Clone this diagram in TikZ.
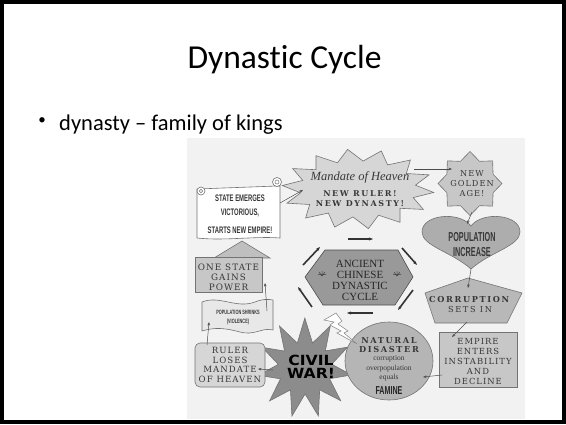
\documentclass[tikz,border=0pt]{standalone}
\usepackage{fontspec}
\setmainfont{Carlito}[Ligatures=NoCommon]
\newfontfamily\condA[FakeStretch=0.62]{Liberation Sans}
\newfontfamily\condB[FakeStretch=0.56]{Liberation Sans}
\newfontfamily\wserif[LetterSpace=12]{DejaVu Serif}
\newfontfamily\wserifB[LetterSpace=20]{DejaVu Serif}
\newfontfamily\tserif{Liberation Serif}
\newfontfamily\heavy[FakeStretch=1.12]{DejaVu Sans}
\usetikzlibrary{arrows.meta}
\newcommand\myfs[2]{\fontsize{#1}{#2}\selectfont}
\tikzset{
  shp/.style={draw=black!55, line width=0.6pt},
  conn/.style={draw=black!70, line width=0.5pt, -{Stealth[length=3.5pt,width=2.6pt]}},
  cyc/.style={draw=black!80, line width=1.6pt, -{Stealth[length=4pt,width=3pt]}},
  txt/.style={align=center, inner sep=0pt, text=black!78},
}
\begin{document}
\begin{tikzpicture}[x=1pt,y=-1pt]
\useasboundingbox (0,0) rectangle (566,424);
\fill[white] (0,0) rectangle (566,424);
% slide text
\node[font=\myfs{33.5}{36}, anchor=base] (title) at (284.5,68) {Dynastic Cycle};
\node[font=\myfs{15}{18}] (bul) at (42,121.5) {\textbullet};
\node[font=\myfs{22.5}{26}, anchor=base west, inner sep=0pt] (btxt) at (59,130) {dynasty -- family of kings};
% image background
\fill[black!5] (187,138) rectangle (525,419);

% block arrow and one-state box
\path[shp, fill=black!25] (229,262) -- (229,258) -- (214,258) -- (242,241) -- (270,258) -- (256,258) -- (256,262) -- cycle;
\path[shp, fill=black!22] (195,257) rectangle (262,292);
\node[txt, font=\wserif\myfs{8.8}{10}] (onestate) at (228.5,277.5) {ONE STATE\\GAINS\\POWER};

% scroll
\path[shp, fill=white] (197,189) -- (277,186) -- (280,186) -- (280,238) .. controls (255,236) and (225,241) .. (197,238) -- cycle;
\path[shp, fill=white] (277,182) circle (4.5);
\draw[black!55, line width=0.5pt] (277,182) circle (2);
\path[shp, fill=white] (201,191) circle (4);
\draw[black!55, line width=0.5pt] (201,191) circle (1.8);
\node[txt, font=\condA\bfseries\myfs{9.5}{14}] (scroll) at (240,214) {STATE EMERGES\\VICTORIOUS,\\[4pt]STARTS NEW EMPIRE!};

% Mandate star
\path[shp, fill=black!16] plot[samples=29, domain=0:28, variable=\t]
  ({358+(67+9*cos(180*\t))*cos(360*\t/28+5)}, {189+(34+6*cos(180*\t))*sin(360*\t/28+5)}) -- cycle;
\node[txt, font=\tserif\itshape\myfs{12.5}{14}] (mandate) at (360,177) {Mandate of Heaven};
\node[txt, font=\wserifB\bfseries\myfs{8}{10}] (newruler) at (360,198.5) {NEW RULER!\\NEW DYNASTY!};

% Golden age star
\path[shp, fill=black!22] plot[samples=17, domain=0:16, variable=\t]
  ({470+(28.5+3.5*cos(180*\t))*cos(360*\t/16)}, {183.5+(28+4*cos(180*\t))*sin(360*\t/16)}) -- cycle;
\node[txt, font=\wserif\myfs{8.2}{10}] (golden) at (472,183.5) {NEW\\GOLDEN\\AGE!};

% heart
\path[shp, fill=black!32] (471,269) .. controls (452,252) and (422,246) .. (422,232)
  .. controls (422,214) and (460,211) .. (471,226)
  .. controls (482,211) and (520,214) .. (520,232)
  .. controls (520,246) and (490,252) .. (471,269) -- cycle;
\node[txt, font=\condB\bfseries\myfs{13}{15}] (heart) at (472,245) {POPULATION\\INCREASE};

% pentagon
\path[shp, fill=black!28] (468,278) -- (522,293) -- (507,323) -- (435,323) -- (425,293) -- cycle;
\node[txt, font=\wserifB\myfs{8.2}{10}] (corrupt) at (470,304.5) {\textbf{CORRUPTION}\\SETS IN};

% empire rect
\path[shp, fill=black!22] (439,332) rectangle (517,387);
\node[txt, font=\wserif\myfs{8.4}{9.8}] (empire) at (478,361.5) {EMPIRE\\ENTERS\\INSTABILITY\\AND\\DECLINE};

% civil war star
\path[shp, fill=black!45] plot[samples=23, domain=0:22, variable=\t]
  ({305+(37+10*cos(180*\t))*cos(360*\t/22+8)}, {368+(38+12*cos(180*\t))*sin(360*\t/22+8)}) -- cycle;
\node[txt, text=black, font=\heavy\bfseries\myfs{14}{13.5}] (civil) at (311,367) {CIVIL\\WAR!};

% circle
\path[shp, fill=black!29] (389,361) ellipse (44 and 39);
\node[txt, font=\wserifB\bfseries\myfs{8.2}{9}] (natural) at (389,345) {NATURAL\\DISASTER};
\node[txt, font=\tserif\myfs{7.5}{9.5}] (causes) at (389,368.5) {corruption\\overpopulation\\equals};
\node[txt, text=black!85, font=\condA\bfseries\myfs{11.5}{12}] (famine) at (389,391) {FAMINE};

% lightning bolt
\path[draw=black!50, line width=0.5pt, fill=white] (324,320) -- (336,313) -- (342,321) -- (338,324) -- (348,331) -- (344,333) -- (357,344) -- (337,333) -- (341,331) -- (330,325) -- (334,322) -- cycle;

% ruler box
\path[shp, fill=black!16, rounded corners=5pt] (195,343) rectangle (265,387);
\node[txt, font=\wserif\myfs{8.6}{9.7}] (ruler) at (230,365) {RULER\\LOSES\\MANDATE\\OF HEAVEN};

% banner
\path[shp, fill=black!9] (202,302) .. controls (220,295) and (236,309) .. (255,302) .. controls (262,299) and (268,299) .. (273,300)
  -- (273,330) .. controls (262,327) and (255,336) .. (240,332) .. controls (225,328) and (215,327) .. (202,331) -- cycle;
\node[txt, font=\condA\bfseries\myfs{6.2}{9}] (banner) at (238,317.5) {POPULATION SHRINKS\\(VIOLENCE)};

% hexagon
\path[draw=black!70, line width=0.6pt, fill=black!40] (305,277) -- (325,250) -- (398,250) -- (413,277) -- (395,305) -- (323,305) -- cycle;
\node[txt, text=black!85, font=\tserif\myfs{11}{11}] (hex) at (360,280) {ANCIENT\\CHINESE\\DYNASTIC\\CYCLE};
\draw[black!75, line width=0.5pt] (318,274.5) -- (326,274.5) (319,272) -- (322,276) -- (325,272) (322,271) -- (322,276);
\draw[black!75, line width=0.5pt] (393,274.5) -- (401,274.5) (394,272) -- (397,276) -- (400,272) (397,271) -- (397,276);

% cycle arrows around hexagon
\coordinate (h1a) at (348,239); \coordinate (h1b) at (373,239);
\coordinate (h2a) at (402,248); \coordinate (h2b) at (417,265);
\coordinate (h3a) at (413,290); \coordinate (h3b) at (398,310);
\coordinate (h4a) at (373,313); \coordinate (h4b) at (347,313);
\coordinate (h5a) at (312,307); \coordinate (h5b) at (298,287);
\coordinate (h6a) at (303,265); \coordinate (h6b) at (320,247);
\draw[cyc] (h1a) -- (h1b);
\draw[cyc] (h2a) -- (h2b);
\draw[cyc] (h3a) -- (h3b);
\draw[cyc] (h4a) -- (h4b);
\draw[cyc] (h5a) -- (h5b);
\draw[cyc] (h6a) -- (h6b);

% connectors
\coordinate (scrollout) at (280,203); \coordinate (mandin) at (303,190);
\coordinate (mandout) at (414,169); \coordinate (goldin) at (452,169);
\coordinate (goldout) at (472,212); \coordinate (heartin) at (467,224);
\coordinate (heartout) at (471,269); \coordinate (pentin) at (468,288);
\coordinate (pentout) at (467,322); \coordinate (empin) at (452,337);
\coordinate (empout) at (442,375); \coordinate (circin) at (423,377);
\coordinate (civout) at (273,370); \coordinate (rulin) at (258,369);
\coordinate (rulout) at (207,345); \coordinate (banin) at (209,322);
\coordinate (banout) at (267,311); \coordinate (onein) at (265,283);
\draw[conn] (scrollout) -- (mandin);
\draw[conn] (mandout) -- (goldin);
\draw[conn] (goldout) -- (heartin);
\draw[conn] (heartout) -- (pentin);
\draw[conn] (pentout) -- (empin);
\draw[conn] (empout) -- (circin);
\draw[conn] (civout) -- (rulin);
\draw[conn] (rulout) -- (banin);
\draw[conn] (banout) -- (onein);

% slide frame
\draw[line width=4pt] (2,2) rectangle (564,422);
\end{tikzpicture}
\end{document}
